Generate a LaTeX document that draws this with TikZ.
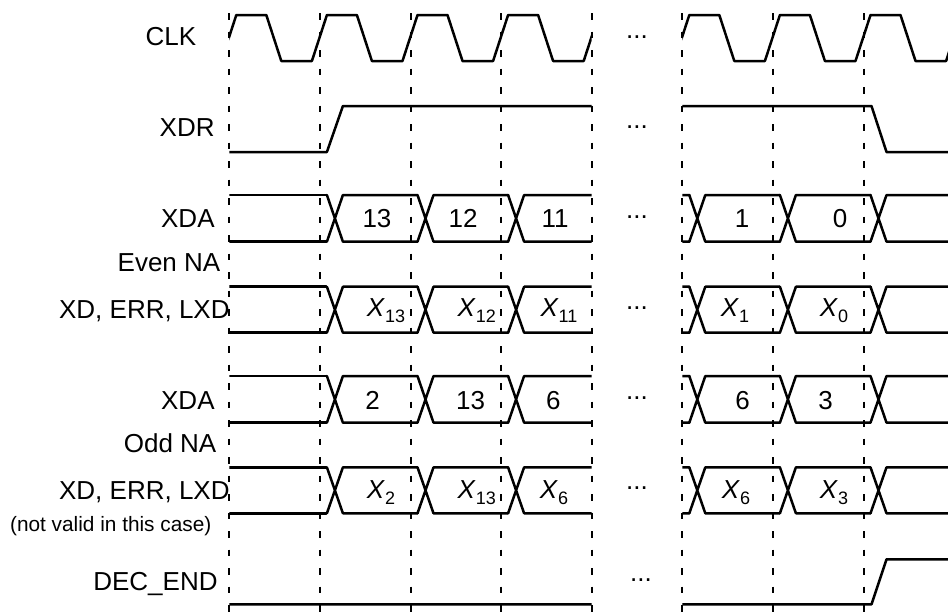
\documentclass[tikz,border=0pt]{standalone}
\usepackage{fontspec}
\setmainfont{Liberation Sans}
\usepackage{tikz}

% bus row with a crossing at every clock edge (top, bottom)
\newcommand{\busrow}[2]{%
  \draw[wave] (229.3,#1) -- (326.3,#1) (229.3,#2) -- (326.3,#2);
  \foreach \i in {1,...,7} {
    \pgfmathsetmacro{\dx}{229.3+\i*90.6}
    \draw[wave] (\dx+7,#1) -- (\dx+23,#2) (\dx+7,#2) -- (\dx+23,#1)
      (\dx+23,#1) -- (\dx+97.6,#1) (\dx+23,#2) -- (\dx+97.6,#2);
  }}
\newcommand{\xval}[1]{\textit{X}\raisebox{-3pt}{\fontsize{9}{10}\selectfont #1}}

\begin{document}
\begin{tikzpicture}[
    x=0.5pt, y=-0.5pt,
    every node/.style={font=\fontsize{13}{15.6}\selectfont, inner sep=0pt},
    lbl/.style={anchor=base east},
    val/.style={anchor=base},
    wave/.style={line width=1.25pt, line cap=round, line join=round},
    vline/.style={line width=1pt, dash pattern=on 3.25pt off 6pt},
]
    \useasboundingbox (0,0) rectangle (948,612);

    % clock edges
    \foreach \i in {0,...,7}
        \draw[vline] ({229.3+\i*90.6},13) -- ({229.3+\i*90.6},612);

    % signal names
    \node[lbl] (clk) at (196.7,45) {CLK};
    \node[lbl] (xdr) at (215,136.7) {XDR};
    \node[lbl] (xdaE) at (215,227.5) {XDA};
    \node[lbl] (naE) at (220.7,271.7) {Even NA};
    \node[lbl] (xdE) at (230,318) {XD, ERR, LXD};
    \node[lbl] (xdaO) at (215,409) {XDA};
    \node[lbl] (naO) at (216.7,452.7) {Odd NA};
    \node[lbl] (xdO) at (230,499) {XD, ERR, LXD};
    \node[lbl, font=\fontsize{10.4}{12.5}\selectfont] (note) at (211.7,531) {(not valid in this case)};
    \node[lbl] (decend) at (218,590) {DEC\_END};

    % waveforms
    \begin{scope}
        \clip (229.3,0) rectangle (591.7,612) (682.3,0) rectangle (948,612);
        % CLK
        \draw[wave] (221.3,61) \foreach \i in {0,...,8} {
            -- ++(15,-46) -- ++(30,0) -- ++(15,46) -- ++(30.6,0) };
        % XDR
        \draw[wave] (229.3,152) -- (326.9,152) -- (342.9,106) -- (871.5,106)
            -- (886.5,152) -- (948,152);
        % Even NA
        \busrow{195}{241.7}
        \busrow{286.7}{332.7}
        % Odd NA
        \busrow{376}{422.7}
        \busrow{467.3}{513.3}
        % DEC_END
        \draw[wave] (229.3,604.3) -- (871.5,604.3) -- (886.5,559.3) -- (948,559.3);
    \end{scope}

    % values
    \foreach \v/\x [count=\k] in {13/377, 12/463, 11/555, 1/742, 0/840}
        \node[val] (aE\k) at (\x,227) {\v};
    \foreach \v/\x [count=\k] in {13/386, 12/476.7, 11/559, 1/735, 0/834}
        \node[val] (dE\k) at (\x,316.7) {\xval{\v}};
    \foreach \v/\x [count=\k] in {2/372.7, 13/470.7, 6/553.3, 6/742.7, 3/825.7}
        \node[val] (aO\k) at (\x,409) {\v};
    \foreach \v/\x [count=\k] in {2/381, 13/476.7, 6/554, 6/736, 3/834}
        \node[val] (dO\k) at (\x,498.3) {\xval{\v}};

    % gap in time
    \foreach \y [count=\k] in {38, 128, 218, 309.6, 399.6, 489.6}
        \node[val] (gap\k) at (637,\y) {...};
    \node[val] (gap7) at (641,581.3) {...};
\end{tikzpicture}
\end{document}
